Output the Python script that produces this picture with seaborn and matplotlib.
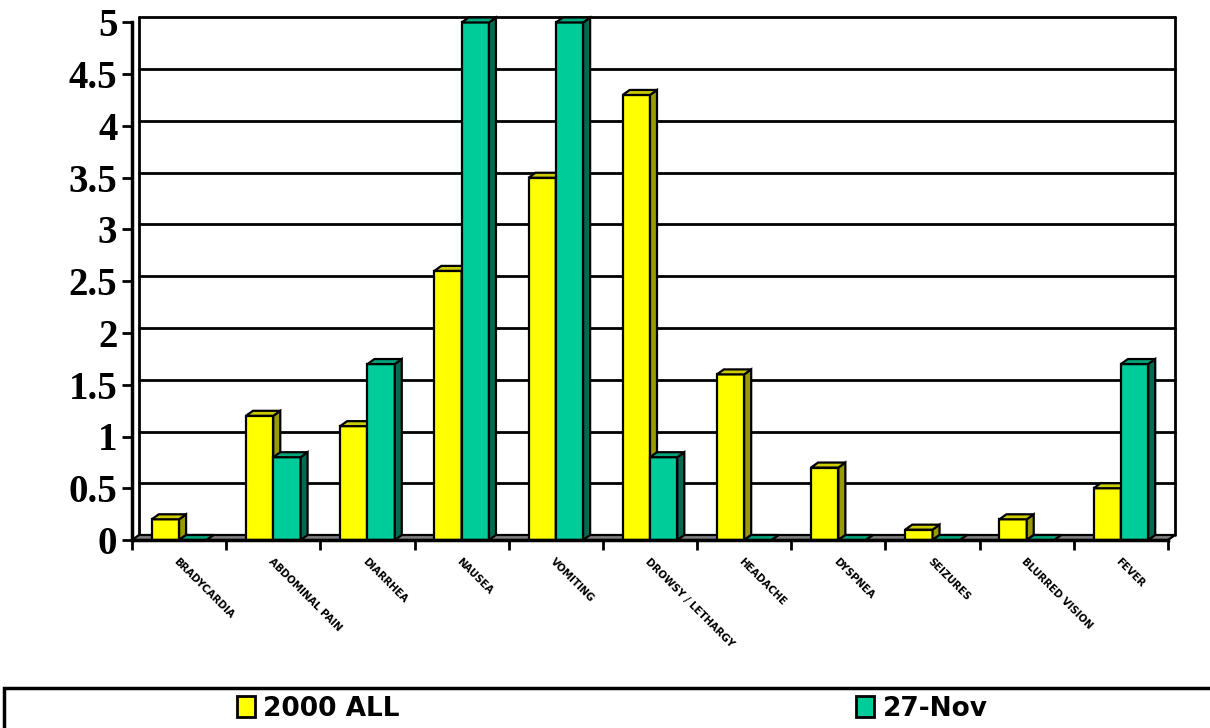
import matplotlib
matplotlib.use("Agg")
import matplotlib.pyplot as plt
from matplotlib.patches import Polygon, Patch, Rectangle
from matplotlib.lines import Line2D
import numpy as np
import pandas as pd
import seaborn as sns

# Symptom categories and the two series
symptoms = ["BRADYCARDIA", "ABDOMINAL PAIN", "DIARRHEA", "NAUSEA", "VOMITING",
            "DROWSY / LETHARGY", "HEADACHE", "DYSPNEA", "SEIZURES",
            "BLURRED VISION", "FEVER"]
all_2000 = [0.2, 1.2, 1.1, 2.6, 3.5, 4.3, 1.6, 0.7, 0.1, 0.2, 0.5]
nov_27 = [0.0, 0.8, 1.7, 5.0, 5.0, 0.8, 0.0, 0.0, 0.0, 0.0, 1.7]
series_names = ["2000 ALL", "27-Nov"]
y_ticks = [0, 0.5, 1, 1.5, 2, 2.5, 3, 3.5, 4, 4.5, 5]

df = pd.DataFrame({
    "symptom": symptoms * 2,
    "value": all_2000 + nov_27,
    "series": [series_names[0]] * len(symptoms) + [series_names[1]] * len(symptoms),
})

front = {"2000 ALL": "#FFFF00", "27-Nov": "#00CC99"}
side = {"2000 ALL": "#999900", "27-Nov": "#006B52"}
top = {"2000 ALL": "#CCCC00", "27-Nov": "#00A67C"}

sns.set_style("white")
plt.rcParams.update({"text.color": "black", "xtick.color": "black",
                     "ytick.color": "black", "axes.labelcolor": "black"})

W, H = 1210, 728
fig = plt.figure(figsize=(W / 100, H / 100), dpi=100)
ax_l, ax_r, ax_b, ax_t = 132, 1168, 540, 22.5
ax = fig.add_axes([ax_l / W, (H - ax_b) / H, (ax_r - ax_l) / W, (ax_b - ax_t) / H])

sns.barplot(data=df, x="symptom", y="value", hue="series", order=symptoms,
            hue_order=series_names, palette=front, width=0.58, gap=0,
            saturation=1, edgecolor="black", linewidth=1.6, legend=False, ax=ax)

ax.set_xlim(-0.5, len(symptoms) - 0.5)
ax.set_ylim(0, 5)

# depth of the pseudo-3D extrusion, in data units
px_x = (ax_r - ax_l) / len(symptoms)
px_y = (ax_b - ax_t) / 5
dx, dy = 7 / px_x, 5 / px_y

# back wall with gridlines, and grey floor
x0, x1 = -0.5, len(symptoms) - 0.5
for v in y_ticks[1:]:
    ax.add_line(Line2D([x0 + dx, x1 + dx], [v + dy, v + dy], color="black",
                       lw=2, zorder=1, clip_on=False))
for xv in (x0 + dx, x1 + dx):
    ax.add_line(Line2D([xv, xv], [dy, 5 + dy], color="black", lw=2,
                       zorder=1, clip_on=False))
ax.add_patch(Polygon([(x0, 0), (x1, 0), (x1 + dx, dy), (x0 + dx, dy)],
                     closed=True, facecolor="#808080", edgecolor="black",
                     lw=1.6, zorder=2, clip_on=False))

# extrude every bar: side face and top face
bars = list(ax.patches)
for p in bars:
    if not isinstance(p, Rectangle) or p.get_width() <= 0:
        continue
    bx, bw, bh = p.get_x(), p.get_width(), p.get_height()
    cat = int(round(bx + bw / 2))
    hue_i = 0 if (bx + bw / 2) < cat else 1
    name = series_names[hue_i]
    z = 3 + 2 * cat + hue_i
    p.set_zorder(z)
    p.set_clip_on(False)
    sp = Polygon([(bx + bw, 0), (bx + bw + dx, dy), (bx + bw + dx, bh + dy),
                  (bx + bw, bh)], closed=True, facecolor=side[name],
                 edgecolor="black", lw=1.6, zorder=z, clip_on=False)
    tp = Polygon([(bx, bh), (bx + bw, bh), (bx + bw + dx, bh + dy),
                  (bx + dx, bh + dy)], closed=True, facecolor=top[name],
                 edgecolor="black", lw=1.6, zorder=z, clip_on=False)
    ax.add_patch(sp)
    ax.add_patch(tp)

# axes frame
for s in ("top", "right"):
    ax.spines[s].set_visible(False)
for s in ("left", "bottom"):
    ax.spines[s].set_linewidth(2.5)
    ax.spines[s].set_color("black")
    ax.spines[s].set_zorder(40)

ax.set_yticks(y_ticks)
ax.set_yticklabels([f"{v:g}" for v in y_ticks], color="black",
                   fontfamily="Liberation Serif", fontweight="bold", fontsize=28)
ax.tick_params(axis="y", direction="out", length=7.5, width=2, pad=3,
               left=True, color="black")

ax.set_xticks(np.arange(-0.5, len(symptoms), 1.0))
ax.set_xticklabels([])
ax.tick_params(axis="x", which="major", direction="out", length=7.5, width=2,
               bottom=True, color="black")
ax.set_xticks(np.arange(len(symptoms)), minor=True)
ax.set_xticklabels(symptoms, minor=True, rotation=-45, ha="left",
                   rotation_mode="anchor", fontfamily="DejaVu Sans",
                   fontweight="bold", fontsize=7.3, color="black")
ax.tick_params(axis="x", which="minor", length=0, pad=12)
ax.set_xlabel("")
ax.set_ylabel("")
ax.grid(False)

# legend strip along the bottom
fig.add_artist(Rectangle((4 / W, -0.05), (W + 10) / W, (H - 688) / H + 0.05,
                         transform=fig.transFigure, facecolor="white",
                         edgecolor="black", lw=2.5, clip_on=False))
leg_font = {"family": "DejaVu Sans", "weight": "bold", "size": 19}
for name, xpos in ((series_names[0], 237), (series_names[1], 856)):
    leg = fig.legend(handles=[Patch(facecolor=front[name], edgecolor="black", lw=2)],
                     labels=[name], loc="center left",
                     bbox_to_anchor=(xpos / W, (H - 709) / H), frameon=False,
                     handlelength=0.7, handleheight=0.85, handletextpad=0.3,
                     borderpad=0, borderaxespad=0, prop=leg_font)
    for t in leg.get_texts():
        t.set_color("black")

fig.savefig("out.png", dpi=100)
